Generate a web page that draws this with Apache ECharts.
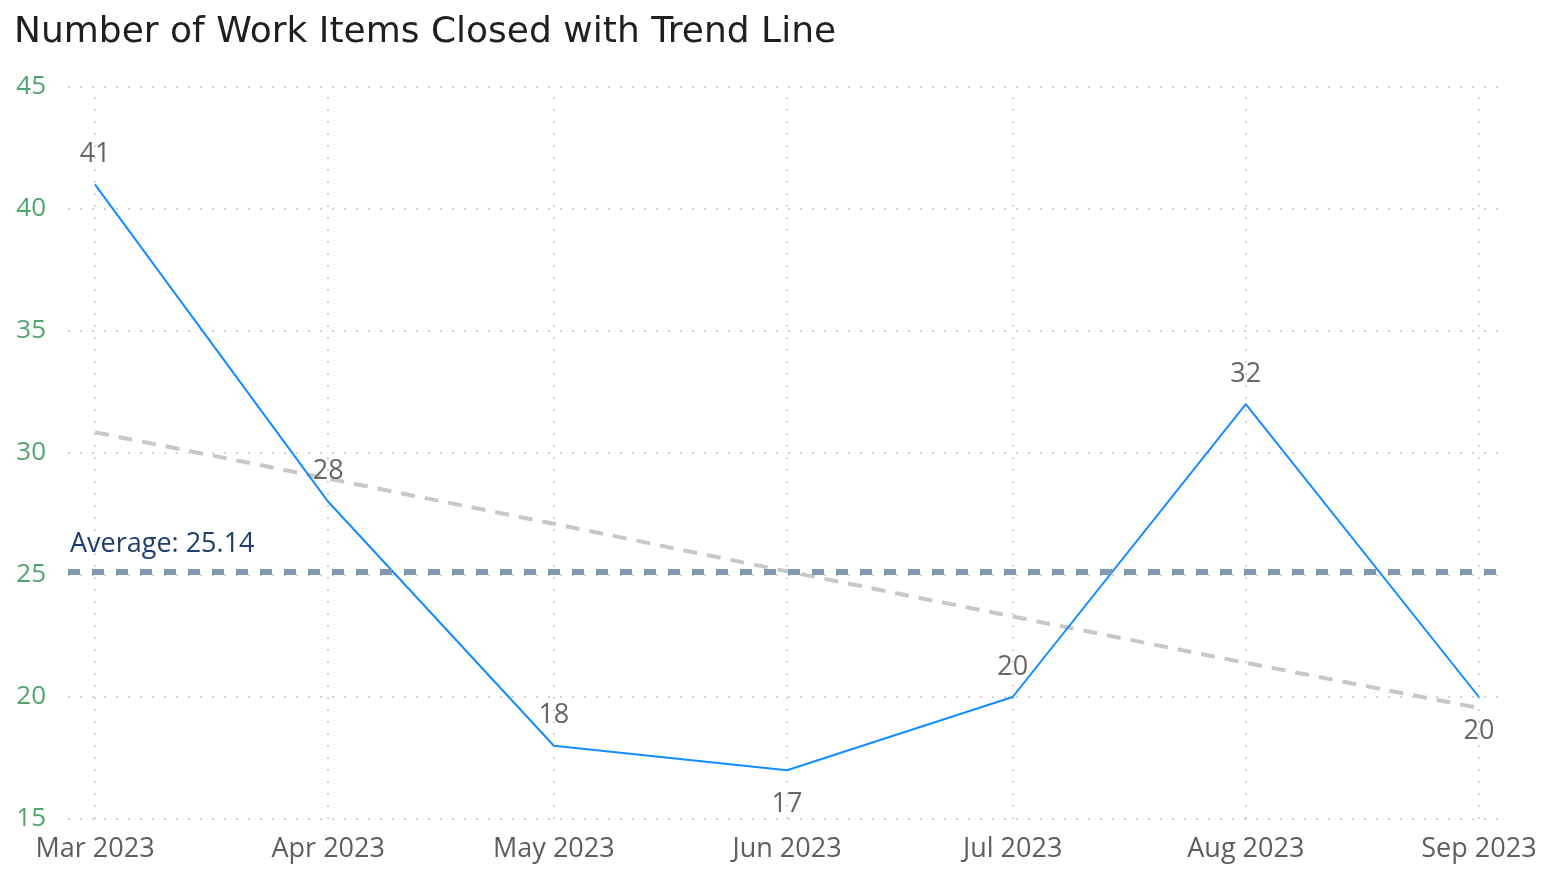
<!DOCTYPE html>
<html>
<head>
<meta charset="utf-8">
<script src="https://cdn.jsdelivr.net/npm/echarts@6/dist/echarts.min.js"></script>
<style>
html,body{margin:0;padding:0;background:#fff;}
#chart{width:1568px;height:894px;}
</style>
</head>
<body>
<div id="chart"></div>
<script>
// ---- data ----
const months = ['2023-03-01','2023-04-01','2023-05-01','2023-06-01','2023-07-01','2023-08-01','2023-09-01'];
const closed = [41, 28, 18, 17, 20, 32, 20];
const trend = [30.85, 28.95, 27.1, 25.15, 23.3, 21.4, 19.55];
const average = 25.14;
const monthNames = ['Jan','Feb','Mar','Apr','May','Jun','Jul','Aug','Sep','Oct','Nov','Dec'];
const labelPos = ['top','top','top','bottom','top','top','bottom'];

const DAY = 86400000;
const t0 = Date.parse(months[0] + 'T00:00:00Z');
const t1 = Date.parse(months[months.length-1] + 'T00:00:00Z');

const chart = echarts.init(document.getElementById('chart'), null, {renderer:'canvas'});
const labelFont = '"Open Sans", "Noto Sans", sans-serif';
const gridLine = {color: '#c8c6c4', type: [2, 10], width: 1.5};

chart.setOption({
  animation: false,
  useUTC: true,
  title: {
    text: 'Number of Work Items Closed with Trend Line',
    left: 9, top: 10,
    textStyle: {fontFamily: '"DejaVu Sans", sans-serif', fontSize: 36, fontWeight: 'normal', color: '#201f1e'}
  },
  grid: {left: 68, right: 68, top: 87, bottom: 75, containLabel: false},
  xAxis: {
    type: 'time',
    min: t0 - 3.6 * DAY,
    max: t1 + 2.8 * DAY,
    splitNumber: 6,
    minInterval: 28 * DAY,
    maxInterval: 31 * DAY,
    axisLine: {show: false},
    axisTick: {show: false},
    splitLine: {show: false},
    axisLabel: {
      showMinLabel: false, showMaxLabel: false,
      margin: 17, fontSize: 27, color: '#605e5c', fontFamily: labelFont,
      formatter: function (v) { const d = new Date(v); return monthNames[d.getUTCMonth()] + ' ' + d.getUTCFullYear(); }
    }
  },
  yAxis: {
    type: 'value', min: 15, max: 45, interval: 5,
    axisLine: {show: false}, axisTick: {show: false},
    splitLine: {show: true, lineStyle: gridLine},
    axisLabel: {margin: 22, fontSize: 26, color: '#52a46e', fontFamily: labelFont}
  },
  series: [
    {
      name: 'Trend', type: 'line', showSymbol: false, symbol: 'none', z: 2,
      data: months.map((m, i) => [m, trend[i]]),
      lineStyle: {color: '#c8c8c8', width: 4, type: [14, 10]},
      silent: true,
      markLine: {
        silent: true, symbol: 'none', z: 1,
        lineStyle: gridLine,
        label: {show: false},
        data: months.map(m => ({xAxis: m}))
      }
    },
    {
      name: 'Closed', type: 'line', showSymbol: true, symbol: 'circle', symbolSize: 1, z: 3,
      itemStyle: {color: '#118dff'},
      data: months.map((m, i) => ({value: [m, closed[i]],
        label: {position: labelPos[i], distance: labelPos[i] === 'bottom' ? 20 : 16}})),
      lineStyle: {color: '#118dff', width: 2},
      label: {show: true, fontSize: 27, color: '#6b6664', fontFamily: labelFont, distance: 16,
        formatter: p => p.value[1]},
      labelLayout: {hideOverlap: false},
      markLine: {
        silent: true, symbol: 'none',
        lineStyle: {color: '#8497b0', width: 6, type: [12, 12]},
        label: {show: true, position: 'insideStartTop', formatter: 'Average: ' + average.toFixed(2),
          fontSize: 27, color: '#1f3d6e', fontFamily: labelFont, distance: [2, 14]},
        data: [{yAxis: average}]
      }
    }
  ]
});
</script>
</body>
</html>
